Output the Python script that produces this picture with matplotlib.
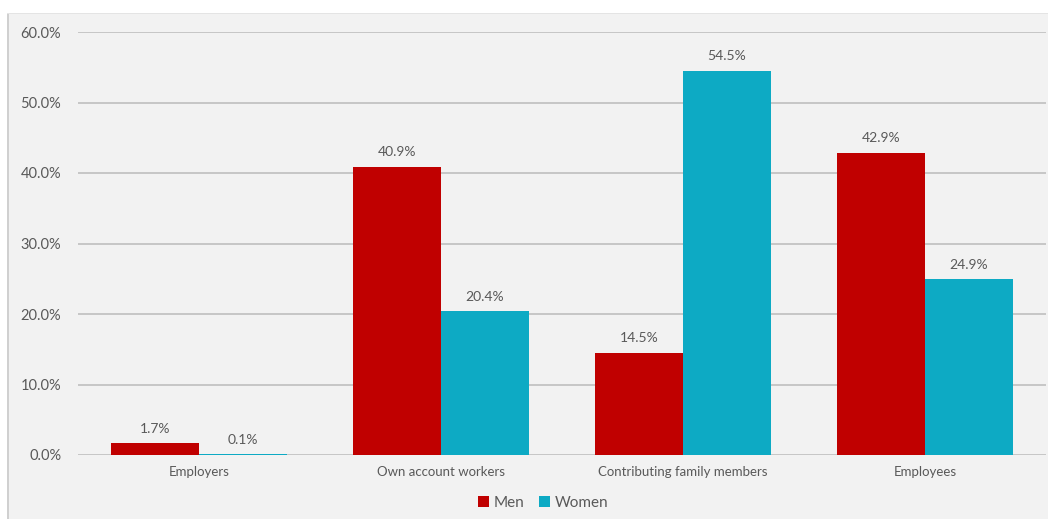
import matplotlib
matplotlib.use("Agg")
import matplotlib.pyplot as plt
from matplotlib.patches import Rectangle
import numpy as np

categories = ["Employers", "Own account workers", "Contributing family members", "Employees"]
men = [1.7, 40.9, 14.5, 42.9]
women = [0.1, 20.4, 54.5, 24.9]
series_names = ["Men", "Women"]
yticks = [0, 10, 20, 30, 40, 50, 60]

RED = "#C00000"
TEAL = "#0DAAC4"
TXT = "#595959"

plt.rcParams['font.family'] = ['Lato', 'DejaVu Sans']

fig = plt.figure(figsize=(10.56, 5.19), dpi=100)
fig.patch.set_facecolor("white")
# gray panel
W, H = 1056, 519
fig.patches.append(Rectangle((9 / W, 0), (1048 - 9) / W, (519 - 14) / H,
                             transform=fig.transFigure, facecolor="#f2f2f2",
                             edgecolor="none", zorder=-5))
fig.patches.append(Rectangle((7 / W, 0), 2 / W, (519 - 14) / H,
                             transform=fig.transFigure, facecolor="#d0d0d0",
                             edgecolor="none", zorder=-5))
fig.patches.append(Rectangle((7 / W, (519 - 14) / H), (1048 - 7) / W, 1.2 / H,
                             transform=fig.transFigure, facecolor="#e4e4e4",
                             edgecolor="none", zorder=-5))

ax = fig.add_axes([78 / W, 1 - 455 / H, (1046 - 78) / W, (455 - 32) / H])
ax.set_zorder(2)
ax.set_facecolor("none")

x = np.arange(len(categories))
bw = 88 / 242
b1 = ax.bar(x - bw / 2, men, bw, color=RED, label=series_names[0], zorder=3)
b2 = ax.bar(x + bw / 2, women, bw, color=TEAL, label=series_names[1], zorder=3)

for bars, vals in ((b1, men), (b2, women)):
    for rect, v in zip(bars, vals):
        ax.annotate(f"{v:.1f}%", (rect.get_x() + rect.get_width() / 2, rect.get_height()),
                    xytext=(0, 6), textcoords="offset points", ha="center", va="bottom",
                    fontsize=10, color=TXT)

ax.set_xlim(-0.5, len(categories) - 0.5)
ax.set_ylim(0, 60)
ax.set_yticks(yticks)
ax.set_yticklabels([f"{v:.1f}%" for v in yticks], fontsize=10.5, color=TXT)
ax.set_xticks(x)
ax.set_xticklabels(categories, fontsize=9.5, color=TXT)
ax.tick_params(axis="both", length=0)
ax.tick_params(axis="y", pad=12)
ax.tick_params(axis="x", pad=8)
ax.yaxis.grid(True, color="#bfbfbf", linewidth=1.2, zorder=0)
ax.set_axisbelow(True)
for s in ax.spines.values():
    s.set_visible(False)

leg = ax.legend(loc="center", bbox_to_anchor=(543 / W, 1 - 503 / H),
                bbox_transform=fig.transFigure, ncol=2, frameon=False,
                fontsize=11, handlelength=0.7, handleheight=0.7,
                handletextpad=0.3, columnspacing=1.0, labelcolor=TXT)

fig.savefig("out.png", dpi=100, facecolor=fig.get_facecolor())
